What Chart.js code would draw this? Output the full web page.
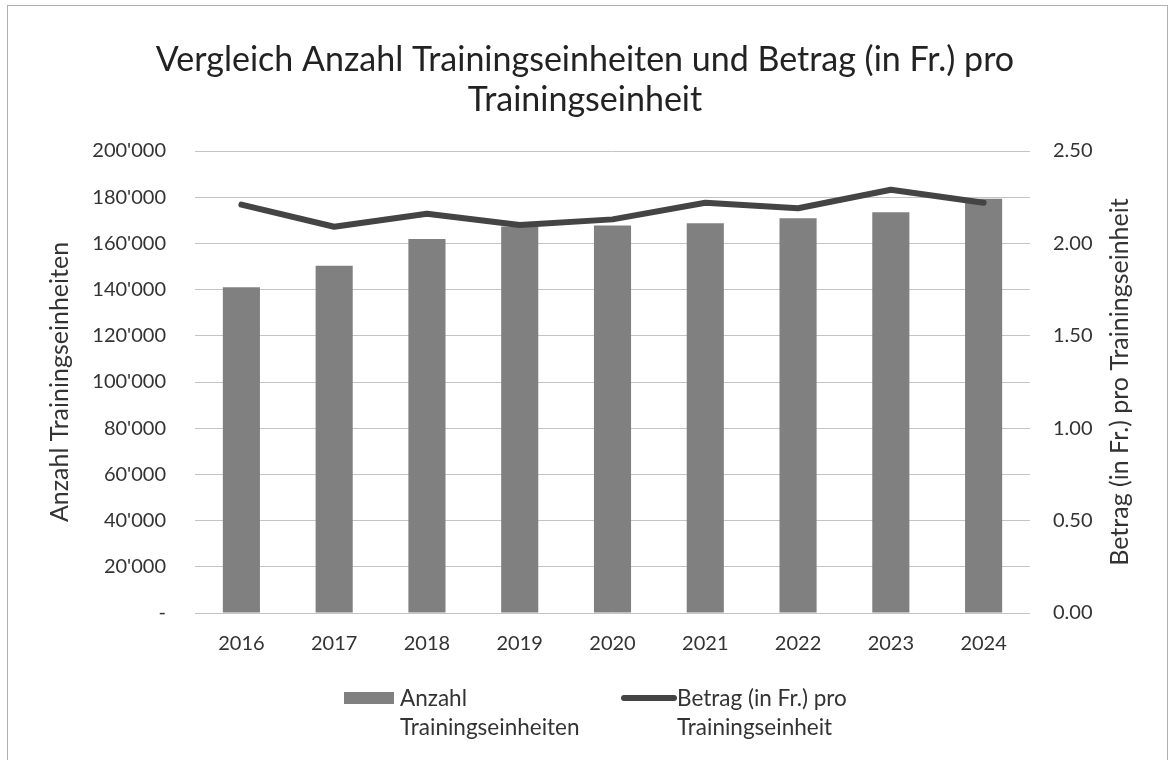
<!DOCTYPE html>
<html>
<head>
<meta charset="utf-8">
<script src="https://cdn.jsdelivr.net/npm/chart.js@4.4.1/dist/chart.umd.min.js"></script>
<style>
  body { margin: 0; background: #fff; }
  #wrap { position: absolute; left: 0; top: 0; width: 1170px; height: 760px; }
  #frame { position: absolute; left: 7px; top: 5px; width: 1159px; height: 760px; border: 1px solid #b0b0b0; }
  #graphCanvas { position: absolute; left: 0; top: 0; }
  #legend { position: absolute; top: 683px; left: 0; width: 1170px; font-family: Lato, sans-serif; font-size: 22.5px; color: #333; }
  .item { position: absolute; line-height: 29px; }
  .swatch { position: absolute; left: -56px; }
</style>
</head>
<body>
<div id="wrap">
  <div id="frame"></div>
  <canvas id="graphCanvas" width="1170" height="760"></canvas>
  <div id="legend">
    <div class="item" style="left:400px"><span class="swatch" style="top:9px;width:50px;height:12px;background:#808080"></span>Anzahl<br>Trainingseinheiten</div>
    <div class="item" style="left:677px"><span class="swatch" style="top:12px;width:56px;height:6px;border-radius:3px;background:#444"></span>Betrag (in Fr.) pro<br>Trainingseinheit</div>
  </div>
</div>
<script>
var years = ['2016', '2017', '2018', '2019', '2020', '2021', '2022', '2023', '2024'];
var einheiten = [141000, 150300, 161900, 167300, 167700, 168700, 170900, 173500, 179300];
var betrag = [2.21, 2.09, 2.16, 2.10, 2.13, 2.22, 2.19, 2.29, 2.22];
var titleLines = ['Vergleich Anzahl Trainingseinheiten und Betrag (in Fr.) pro', 'Trainingseinheit'];
var rightTitle = 'Betrag (in Fr.) pro Trainingseinheit';

function fmtThousands(v) {
    if (v === 0) return '-';
    return String(v).replace(/\B(?=(\d{3})+(?!\d))/g, "'");
}

// right axis title reads bottom-to-top like the left one
var rightTitlePlugin = {
    id: 'rightTitle',
    afterDraw: function(chart) {
        var ctx = chart.ctx;
        var area = chart.chartArea;
        ctx.save();
        ctx.translate(1120, (area.top + area.bottom) / 2);
        ctx.rotate(-Math.PI / 2);
        ctx.font = '25px Lato';
        ctx.fillStyle = '#333';
        ctx.textAlign = 'center';
        ctx.textBaseline = 'middle';
        ctx.fillText(rightTitle, 0, 0);
        ctx.restore();
    }
};

var chartdata = {
    labels: years,
    datasets: [
        {
            type: 'line',
            label: 'Betrag (in Fr.) pro Trainingseinheit',
            data: betrag,
            yAxisID: 'y1',
            borderColor: '#444444',
            borderWidth: 6,
            borderCapStyle: 'round',
            borderJoinStyle: 'round',
            pointRadius: 0,
            tension: 0,
            order: 0
        },
        {
            type: 'bar',
            label: 'Anzahl Trainingseinheiten',
            data: einheiten,
            yAxisID: 'y',
            backgroundColor: '#808080',
            categoryPercentage: 1,
            barPercentage: 0.4,
            order: 1
        }
    ]
};

var tickFont = { family: 'Lato', size: 20 };

new Chart(document.getElementById('graphCanvas'), {
    data: chartdata,
    plugins: [rightTitlePlugin],
    options: {
        responsive: false,
        animation: false,
        layout: { padding: { left: 8, right: 8, top: 40, bottom: 0 } },
        plugins: {
            legend: { display: false },
            tooltip: { enabled: false },
            title: {
                display: true,
                text: titleLines,
                color: '#222',
                font: { family: 'Lato', size: 34, weight: 'normal', lineHeight: 1.1765 },
                padding: { top: 0, bottom: 31 }
            }
        },
        scales: {
            x: {
                grid: { display: false },
                border: { display: false },
                ticks: { color: '#333', font: tickFont, padding: 11 },
                afterFit: function(s) { s.height = 147; }
            },
            y: {
                position: 'left',
                min: 0,
                max: 200000,
                grid: { color: '#c4c4c4', lineWidth: 1, drawTicks: false },
                border: { display: false },
                ticks: {
                    stepSize: 20000,
                    color: '#333',
                    font: tickFont,
                    padding: 29,
                    callback: function(v) { return fmtThousands(v); }
                },
                title: {
                    display: true,
                    text: 'Anzahl Trainingseinheiten',
                    color: '#333',
                    font: { family: 'Lato', size: 25 },
                    padding: { top: 37, bottom: 0 }
                },
                afterFit: function(s) { s.width = 187; }
            },
            y1: {
                position: 'right',
                min: 0,
                max: 2.5,
                grid: { display: false, drawTicks: false },
                border: { display: false },
                ticks: {
                    stepSize: 0.5,
                    color: '#333',
                    font: tickFont,
                    padding: 23,
                    callback: function(v) { return v.toFixed(2); }
                },
                afterFit: function(s) { s.width = 132; }
            }
        }
    }
});
</script>
</body>
</html>
